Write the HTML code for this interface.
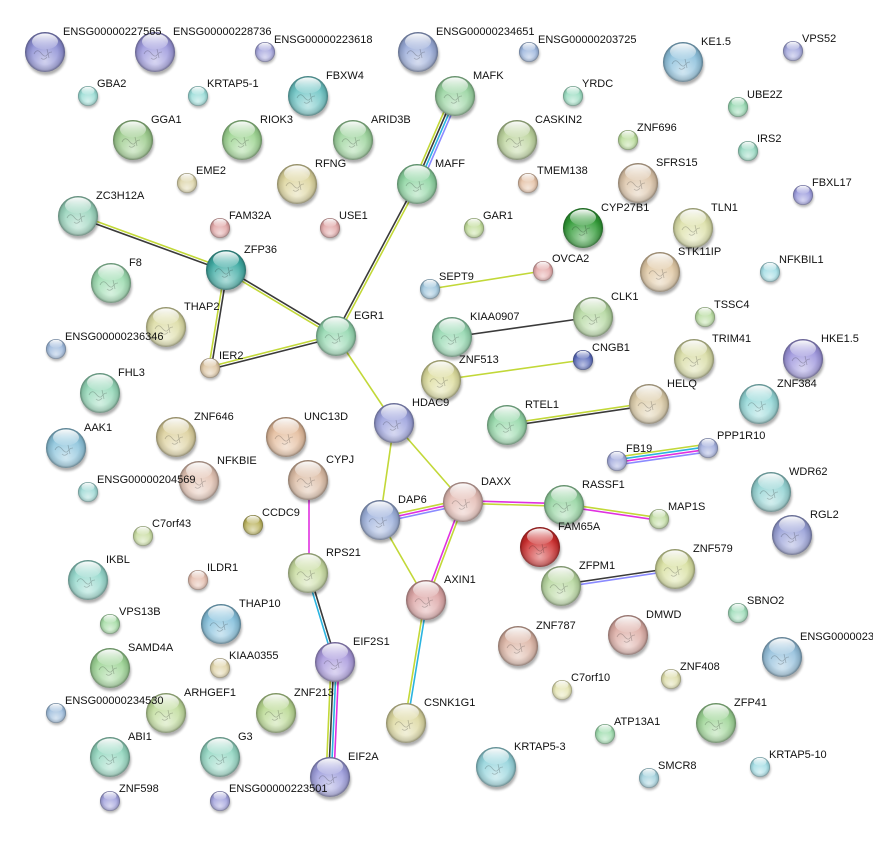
<!DOCTYPE html>
<html><head><meta charset="utf-8"><style>
html,body{margin:0;padding:0;background:#fff;}
svg{display:block;}
text{font-family:"Liberation Sans",Arial,sans-serif;font-size:11px;fill:#111;}
</style></head><body>
<svg width="873" height="845" viewBox="0 0 873 845" xmlns="http://www.w3.org/2000/svg" xmlns:xlink="http://www.w3.org/1999/xlink">
<defs>
<filter id="bl" x="-50%" y="-50%" width="200%" height="200%"><feGaussianBlur stdDeviation="1.4"/></filter>
<radialGradient id="glow" cx="0.5" cy="0.74" r="0.55"><stop offset="0" stop-color="#fff" stop-opacity="0.6"/><stop offset="1" stop-color="#fff" stop-opacity="0"/></radialGradient>
<radialGradient id="rim" cx="0.5" cy="0.5" r="0.5"><stop offset="0.62" stop-color="#000" stop-opacity="0"/><stop offset="0.88" stop-color="#000" stop-opacity="0.12"/><stop offset="1" stop-color="#000" stop-opacity="0.38"/></radialGradient>
<linearGradient id="hl" x1="0" y1="0" x2="0" y2="1"><stop offset="0" stop-color="#fff" stop-opacity="0.95"/><stop offset="1" stop-color="#fff" stop-opacity="0.08"/></linearGradient>
<g id="B"><circle cx="1" cy="3" r="20" fill="#000" opacity="0.32" filter="url(#bl)"/><circle r="20" fill="currentColor"/><circle r="20" fill="url(#glow)"/><circle r="20" fill="url(#rim)"/><path d="M-11,2 q3,-6 7,-1 t6,2 t5,-3 M-4,6 q3,3 6,-1 M2,-3 l2,9" stroke="#000" stroke-opacity="0.22" stroke-width="0.8" fill="none"/><ellipse cy="-10.5" rx="13" ry="8" fill="url(#hl)"/></g>
<g id="S"><circle cx="0.6" cy="2" r="10" fill="#000" opacity="0.3" filter="url(#bl)"/><circle r="10" fill="currentColor"/><circle r="10" fill="url(#glow)"/><circle r="10" fill="url(#rim)"/><ellipse cy="-5.2" rx="6.5" ry="4" fill="url(#hl)"/></g>
</defs>
<rect width="873" height="845" fill="#fff"/>

<g stroke-width="1.6" fill="none">
<g transform="translate(455,96) rotate(113.4)"><line x2="96" y1="3.9" y2="3.9" stroke="#c2d838"/><line x2="96" y1="1.3" y2="1.3" stroke="#3a3a3a"/><line x2="96" y1="-1.3" y2="-1.3" stroke="#2ab4e0"/><line x2="96" y1="-3.9" y2="-3.9" stroke="#8a8aff"/></g>
<g transform="translate(417,184) rotate(118.06)"><line x2="172" y1="1.3" y2="1.3" stroke="#3a3a3a"/><line x2="172" y1="-1.3" y2="-1.3" stroke="#c2d838"/></g>
<g transform="translate(78,216) rotate(20.05)"><line x2="158" y1="-1.3" y2="-1.3" stroke="#c2d838"/><line x2="158" y1="1.3" y2="1.3" stroke="#3a3a3a"/></g>
<g transform="translate(226,270) rotate(30.96)"><line x2="128" y1="1.3" y2="1.3" stroke="#c2d838"/><line x2="128" y1="-1.3" y2="-1.3" stroke="#3a3a3a"/></g>
<g transform="translate(226,270) rotate(99.27)"><line x2="99" y1="1.3" y2="1.3" stroke="#c2d838"/><line x2="99" y1="-1.3" y2="-1.3" stroke="#3a3a3a"/></g>
<g transform="translate(210,368) rotate(-14.25)"><line x2="130" y1="-1.3" y2="-1.3" stroke="#c2d838"/><line x2="130" y1="1.3" y2="1.3" stroke="#3a3a3a"/></g>
<line x1="336" y1="336" x2="394" y2="423" stroke="#c2d838"/>
<line x1="394" y1="423" x2="380" y2="520" stroke="#c2d838"/>
<line x1="394" y1="423" x2="463" y2="502" stroke="#c2d838"/>
<g transform="translate(380,520) rotate(-12.24)"><line x2="85" y1="-2.6" y2="-2.6" stroke="#c2d838"/><line x2="85" y1="0" y2="0" stroke="#e030e0"/><line x2="85" y1="2.6" y2="2.6" stroke="#8a8aff"/></g>
<line x1="380" y1="520" x2="426" y2="600" stroke="#c2d838"/>
<g transform="translate(463,502) rotate(110.68)"><line x2="105" y1="1.3" y2="1.3" stroke="#e030e0"/><line x2="105" y1="-1.3" y2="-1.3" stroke="#c2d838"/></g>
<g transform="translate(463,502) rotate(1.7)"><line x2="101" y1="-1.3" y2="-1.3" stroke="#e030e0"/><line x2="101" y1="1.3" y2="1.3" stroke="#c2d838"/></g>
<g transform="translate(564,505) rotate(8.38)"><line x2="96" y1="-1.3" y2="-1.3" stroke="#c2d838"/><line x2="96" y1="1.3" y2="1.3" stroke="#e030e0"/></g>
<g transform="translate(426,600) rotate(99.24)"><line x2="125" y1="1.3" y2="1.3" stroke="#c2d838"/><line x2="125" y1="-1.3" y2="-1.3" stroke="#2ab4e0"/></g>
<line x1="309" y1="480" x2="309" y2="573" stroke="#e030e0"/>
<g transform="translate(308,573) rotate(73.1)"><line x2="93" y1="1.3" y2="1.3" stroke="#2ab4e0"/><line x2="93" y1="-1.3" y2="-1.3" stroke="#3a3a3a"/></g>
<g transform="translate(335,662) rotate(92.5)"><line x2="115" y1="3.9" y2="3.9" stroke="#c2d838"/><line x2="115" y1="1.3" y2="1.3" stroke="#3a3a3a"/><line x2="115" y1="-1.3" y2="-1.3" stroke="#2ab4e0"/><line x2="115" y1="-3.9" y2="-3.9" stroke="#e030e0"/></g>
<line x1="430" y1="289" x2="543" y2="271" stroke="#c2d838"/>
<line x1="452" y1="337" x2="593" y2="317" stroke="#3a3a3a"/>
<line x1="441" y1="380" x2="583" y2="360" stroke="#c2d838"/>
<g transform="translate(507,425) rotate(-8.4)"><line x2="144" y1="-1.3" y2="-1.3" stroke="#c2d838"/><line x2="144" y1="1.3" y2="1.3" stroke="#3a3a3a"/></g>
<g transform="translate(617,461) rotate(-8.13)"><line x2="92" y1="-3.9" y2="-3.9" stroke="#c2d838"/><line x2="92" y1="-1.3" y2="-1.3" stroke="#2ab4e0"/><line x2="92" y1="1.3" y2="1.3" stroke="#e030e0"/><line x2="92" y1="3.9" y2="3.9" stroke="#8a8aff"/></g>
<g transform="translate(561,586) rotate(-8.48)"><line x2="115" y1="-1.3" y2="-1.3" stroke="#3a3a3a"/><line x2="115" y1="1.3" y2="1.3" stroke="#8a8aff"/></g>
</g>

<g>
<use href="#B" x="45" y="52" color="#8c8ed4"/>
<use href="#B" x="155" y="52" color="#9c98dc"/>
<use href="#S" x="265" y="52" color="#a2a2dc"/>
<use href="#B" x="418" y="52" color="#98aad8"/>
<use href="#S" x="529" y="52" color="#9ab4dc"/>
<use href="#B" x="683" y="62" color="#8cc0dc"/>
<use href="#S" x="793" y="51" color="#a0a4dc"/>
<use href="#S" x="88" y="96" color="#98dcd4"/>
<use href="#S" x="198" y="96" color="#98dcd8"/>
<use href="#B" x="308" y="96" color="#6cc4c4"/>
<use href="#B" x="455" y="96" color="#98d4a0"/>
<use href="#S" x="573" y="96" color="#98dcc0"/>
<use href="#S" x="738" y="107" color="#94d8b0"/>
<use href="#B" x="133" y="140" color="#9ccc8c"/>
<use href="#B" x="242" y="140" color="#9cd490"/>
<use href="#B" x="353" y="140" color="#9cd49c"/>
<use href="#B" x="517" y="140" color="#bcd49c"/>
<use href="#S" x="628" y="140" color="#b8dc98"/>
<use href="#S" x="748" y="151" color="#94d8c0"/>
<use href="#S" x="187" y="183" color="#dcd4a8"/>
<use href="#B" x="297" y="184" color="#dcd49c"/>
<use href="#B" x="417" y="184" color="#8cd4a0"/>
<use href="#S" x="528" y="183" color="#e4c0a4"/>
<use href="#B" x="638" y="183" color="#dcc4a8"/>
<use href="#S" x="803" y="195" color="#9898dc"/>
<use href="#B" x="78" y="216" color="#98d4bc"/>
<use href="#S" x="220" y="228" color="#e0a4a4"/>
<use href="#S" x="330" y="228" color="#e0a4a4"/>
<use href="#S" x="474" y="228" color="#c0dc98"/>
<use href="#B" x="583" y="228" color="#2e9a34"/>
<use href="#B" x="693" y="228" color="#dce0a8"/>
<use href="#B" x="226" y="270" color="#3caaa2"/>
<use href="#S" x="543" y="271" color="#e4a8a8"/>
<use href="#B" x="660" y="272" color="#e0c8a4"/>
<use href="#S" x="770" y="272" color="#a0dce4"/>
<use href="#B" x="111" y="283" color="#9cdcb0"/>
<use href="#S" x="430" y="289" color="#9cc4dc"/>
<use href="#B" x="593" y="317" color="#b4d8a0"/>
<use href="#S" x="705" y="317" color="#b8dca0"/>
<use href="#B" x="166" y="327" color="#dcdca4"/>
<use href="#B" x="336" y="336" color="#94d8b0"/>
<use href="#B" x="452" y="337" color="#94d8b0"/>
<use href="#S" x="56" y="349" color="#9cb8dc"/>
<use href="#S" x="210" y="368" color="#dcc4a0"/>
<use href="#S" x="583" y="360" color="#5566b8"/>
<use href="#B" x="694" y="359" color="#d8dca4"/>
<use href="#B" x="803" y="359" color="#9c94dc"/>
<use href="#B" x="441" y="380" color="#dcdc9c"/>
<use href="#B" x="100" y="393" color="#94d8b8"/>
<use href="#B" x="649" y="404" color="#dccca8"/>
<use href="#B" x="759" y="404" color="#94d8d8"/>
<use href="#B" x="394" y="423" color="#9aa0dc"/>
<use href="#B" x="507" y="425" color="#94d8a8"/>
<use href="#B" x="176" y="437" color="#dcd09c"/>
<use href="#B" x="286" y="437" color="#e4bc9c"/>
<use href="#B" x="66" y="448" color="#8cc4dc"/>
<use href="#S" x="708" y="448" color="#a0acdc"/>
<use href="#S" x="617" y="461" color="#a0a8dc"/>
<use href="#B" x="199" y="481" color="#e4c4b4"/>
<use href="#B" x="308" y="480" color="#dcbca4"/>
<use href="#S" x="88" y="492" color="#9cd8d4"/>
<use href="#B" x="771" y="492" color="#94d4d4"/>
<use href="#B" x="463" y="502" color="#e4bcb4"/>
<use href="#B" x="564" y="505" color="#94d4a0"/>
<use href="#B" x="380" y="520" color="#9cb0dc"/>
<use href="#S" x="659" y="519" color="#c0dca0"/>
<use href="#S" x="253" y="525" color="#b8b058"/>
<use href="#B" x="792" y="535" color="#98a0d8"/>
<use href="#S" x="143" y="536" color="#c8dca0"/>
<use href="#B" x="540" y="547" color="#cc2a2a"/>
<use href="#B" x="308" y="573" color="#c8dca0"/>
<use href="#B" x="675" y="569" color="#d8e0a0"/>
<use href="#B" x="88" y="580" color="#94d8cc"/>
<use href="#S" x="198" y="580" color="#e4bcac"/>
<use href="#B" x="561" y="586" color="#b8d8a0"/>
<use href="#B" x="426" y="600" color="#dca4a4"/>
<use href="#S" x="738" y="613" color="#9cdcb8"/>
<use href="#S" x="110" y="624" color="#a4dca4"/>
<use href="#B" x="221" y="624" color="#84c0dc"/>
<use href="#B" x="628" y="635" color="#dcaca4"/>
<use href="#B" x="518" y="646" color="#dcb4a4"/>
<use href="#B" x="782" y="657" color="#94c0dc"/>
<use href="#B" x="335" y="662" color="#a898dc"/>
<use href="#B" x="110" y="668" color="#9cd494"/>
<use href="#S" x="220" y="668" color="#e0d4a8"/>
<use href="#S" x="671" y="679" color="#dcdca8"/>
<use href="#S" x="562" y="690" color="#e4e4b0"/>
<use href="#S" x="56" y="713" color="#9cbcdc"/>
<use href="#B" x="166" y="713" color="#c0dc9c"/>
<use href="#B" x="276" y="713" color="#b8d890"/>
<use href="#B" x="406" y="723" color="#dcd8a0"/>
<use href="#B" x="716" y="723" color="#9cd494"/>
<use href="#S" x="605" y="734" color="#9cdcac"/>
<use href="#B" x="110" y="757" color="#94d8c0"/>
<use href="#B" x="220" y="757" color="#94d8c4"/>
<use href="#S" x="760" y="767" color="#a0dce4"/>
<use href="#B" x="496" y="767" color="#94d4dc"/>
<use href="#B" x="330" y="777" color="#9c9cdc"/>
<use href="#S" x="649" y="778" color="#a0d0dc"/>
<use href="#S" x="110" y="801" color="#a0a0dc"/>
<use href="#S" x="220" y="801" color="#a0a0dc"/>
</g>

<g>
<text x="63" y="35">ENSG00000227565</text>
<text x="173" y="35">ENSG00000228736</text>
<text x="274" y="43">ENSG00000223618</text>
<text x="436" y="35">ENSG00000234651</text>
<text x="538" y="43">ENSG00000203725</text>
<text x="701" y="45">KE1.5</text>
<text x="802" y="42">VPS52</text>
<text x="97" y="87">GBA2</text>
<text x="207" y="87">KRTAP5-1</text>
<text x="326" y="79">FBXW4</text>
<text x="473" y="79">MAFK</text>
<text x="582" y="87">YRDC</text>
<text x="747" y="98">UBE2Z</text>
<text x="151" y="123">GGA1</text>
<text x="260" y="123">RIOK3</text>
<text x="371" y="123">ARID3B</text>
<text x="535" y="123">CASKIN2</text>
<text x="637" y="131">ZNF696</text>
<text x="757" y="142">IRS2</text>
<text x="196" y="174">EME2</text>
<text x="315" y="167">RFNG</text>
<text x="435" y="167">MAFF</text>
<text x="537" y="174">TMEM138</text>
<text x="656" y="166">SFRS15</text>
<text x="812" y="186">FBXL17</text>
<text x="96" y="199">ZC3H12A</text>
<text x="229" y="219">FAM32A</text>
<text x="339" y="219">USE1</text>
<text x="483" y="219">GAR1</text>
<text x="601" y="211">CYP27B1</text>
<text x="711" y="211">TLN1</text>
<text x="244" y="253">ZFP36</text>
<text x="552" y="262">OVCA2</text>
<text x="678" y="255">STK11IP</text>
<text x="779" y="263">NFKBIL1</text>
<text x="129" y="266">F8</text>
<text x="439" y="280">SEPT9</text>
<text x="611" y="300">CLK1</text>
<text x="714" y="308">TSSC4</text>
<text x="184" y="310">THAP2</text>
<text x="354" y="319">EGR1</text>
<text x="470" y="320">KIAA0907</text>
<text x="65" y="340">ENSG00000236346</text>
<text x="219" y="359">IER2</text>
<text x="592" y="351">CNGB1</text>
<text x="712" y="342">TRIM41</text>
<text x="821" y="342">HKE1.5</text>
<text x="459" y="363">ZNF513</text>
<text x="118" y="376">FHL3</text>
<text x="667" y="387">HELQ</text>
<text x="777" y="387">ZNF384</text>
<text x="412" y="406">HDAC9</text>
<text x="525" y="408">RTEL1</text>
<text x="194" y="420">ZNF646</text>
<text x="304" y="420">UNC13D</text>
<text x="84" y="431">AAK1</text>
<text x="717" y="439">PPP1R10</text>
<text x="626" y="452">FB19</text>
<text x="217" y="464">NFKBIE</text>
<text x="326" y="463">CYPJ</text>
<text x="97" y="483">ENSG00000204569</text>
<text x="789" y="475">WDR62</text>
<text x="481" y="485">DAXX</text>
<text x="582" y="488">RASSF1</text>
<text x="398" y="503">DAP6</text>
<text x="668" y="510">MAP1S</text>
<text x="262" y="516">CCDC9</text>
<text x="810" y="518">RGL2</text>
<text x="152" y="527">C7orf43</text>
<text x="558" y="530">FAM65A</text>
<text x="326" y="556">RPS21</text>
<text x="693" y="552">ZNF579</text>
<text x="106" y="563">IKBL</text>
<text x="207" y="571">ILDR1</text>
<text x="579" y="569">ZFPM1</text>
<text x="444" y="583">AXIN1</text>
<text x="747" y="604">SBNO2</text>
<text x="119" y="615">VPS13B</text>
<text x="239" y="607">THAP10</text>
<text x="646" y="618">DMWD</text>
<text x="536" y="629">ZNF787</text>
<text x="800" y="640">ENSG0000023</text>
<text x="353" y="645">EIF2S1</text>
<text x="128" y="651">SAMD4A</text>
<text x="229" y="659">KIAA0355</text>
<text x="680" y="670">ZNF408</text>
<text x="571" y="681">C7orf10</text>
<text x="65" y="704">ENSG00000234530</text>
<text x="184" y="696">ARHGEF1</text>
<text x="294" y="696">ZNF213</text>
<text x="424" y="706">CSNK1G1</text>
<text x="734" y="706">ZFP41</text>
<text x="614" y="725">ATP13A1</text>
<text x="128" y="740">ABI1</text>
<text x="238" y="740">G3</text>
<text x="769" y="758">KRTAP5-10</text>
<text x="514" y="750">KRTAP5-3</text>
<text x="348" y="760">EIF2A</text>
<text x="658" y="769">SMCR8</text>
<text x="119" y="792">ZNF598</text>
<text x="229" y="792">ENSG00000223501</text>
</g>
</svg>
</body></html>
